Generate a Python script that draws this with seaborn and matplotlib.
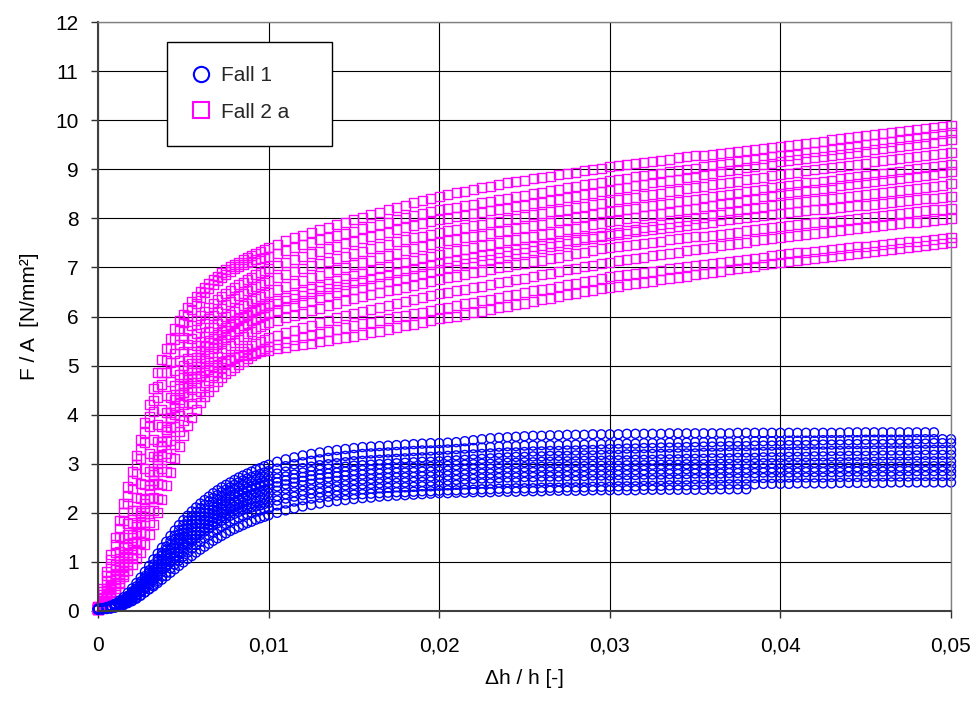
import matplotlib
matplotlib.use("Agg")
import matplotlib.pyplot as plt
from matplotlib.lines import Line2D
import pandas as pd
import seaborn as sns

# ---------------- data ----------------
# strain samples: every 0.00025 up to 0.01, then every 0.0005 up to 0.05
STRAIN = [
    0.00000, 0.00025, 0.00050, 0.00075, 0.00100, 0.00125, 0.00150, 0.00175,
    0.00200, 0.00225, 0.00250, 0.00275, 0.00300, 0.00325, 0.00350, 0.00375,
    0.00400, 0.00425, 0.00450, 0.00475, 0.00500, 0.00525, 0.00550, 0.00575,
    0.00600, 0.00625, 0.00650, 0.00675, 0.00700, 0.00725, 0.00750, 0.00775,
    0.00800, 0.00825, 0.00850, 0.00875, 0.00900, 0.00925, 0.00950, 0.00975,
    0.01000,
    0.0105, 0.0110, 0.0115, 0.0120, 0.0125, 0.0130, 0.0135, 0.0140, 0.0145, 0.0150,
    0.0155, 0.0160, 0.0165, 0.0170, 0.0175, 0.0180, 0.0185, 0.0190, 0.0195, 0.0200,
    0.0205, 0.0210, 0.0215, 0.0220, 0.0225, 0.0230, 0.0235, 0.0240, 0.0245, 0.0250,
    0.0255, 0.0260, 0.0265, 0.0270, 0.0275, 0.0280, 0.0285, 0.0290, 0.0295, 0.0300,
    0.0305, 0.0310, 0.0315, 0.0320, 0.0325, 0.0330, 0.0335, 0.0340, 0.0345, 0.0350,
    0.0355, 0.0360, 0.0365, 0.0370, 0.0375, 0.0380, 0.0385, 0.0390, 0.0395, 0.0400,
    0.0405, 0.0410, 0.0415, 0.0420, 0.0425, 0.0430, 0.0435, 0.0440, 0.0445, 0.0450,
    0.0455, 0.0460, 0.0465, 0.0470, 0.0475, 0.0480, 0.0485, 0.0490, 0.0495, 0.0500,
]

# Fall 1 (blue circles), one list per test curve
FALL1_B1 = [
    0.05, 0.06, 0.08, 0.11, 0.15, 0.21, 0.28, 0.37, 0.46, 0.57,
    0.68, 0.80, 0.92, 1.05, 1.17, 1.29, 1.41, 1.53, 1.64, 1.75,
    1.85, 1.94, 2.03, 2.11, 2.19, 2.26, 2.33, 2.40, 2.46, 2.52,
    2.57, 2.62, 2.67, 2.72, 2.76, 2.80, 2.84, 2.88, 2.91, 2.95,
    2.98,
    3.04, 3.09, 3.13, 3.17, 3.20, 3.23, 3.26, 3.28, 3.30, 3.32,
    3.34, 3.35, 3.36, 3.37, 3.38, 3.39, 3.40, 3.41, 3.42, 3.42,
    3.43, 3.44, 3.46, 3.48, 3.50, 3.52, 3.53, 3.54, 3.55, 3.56,
    3.57, 3.57, 3.58, 3.58, 3.59, 3.59, 3.59, 3.60, 3.60, 3.60,
    3.60, 3.61, 3.61, 3.61, 3.61, 3.61, 3.62, 3.62, 3.62, 3.62,
    3.62, 3.62, 3.62, 3.62, 3.63, 3.63, 3.63, 3.63, 3.63, 3.63,
    3.63, 3.63, 3.63, 3.63, 3.63, 3.63, 3.63, 3.64, 3.64, 3.64,
    3.64, 3.64, 3.64, 3.64, 3.64, 3.64, 3.64, 3.64,
]
FALL1_B2 = [
    0.04, 0.05, 0.07, 0.10, 0.13, 0.18, 0.24, 0.31, 0.40, 0.50,
    0.60, 0.71, 0.83, 0.95, 1.07, 1.19, 1.31, 1.43, 1.54, 1.65,
    1.75, 1.84, 1.93, 2.01, 2.09, 2.16, 2.23, 2.30, 2.36, 2.42,
    2.47, 2.52, 2.57, 2.62, 2.66, 2.70, 2.73, 2.76, 2.79, 2.82,
    2.85,
    2.90, 2.95, 2.99, 3.03, 3.06, 3.09, 3.12, 3.14, 3.16, 3.18,
    3.20, 3.21, 3.22, 3.23, 3.24, 3.25, 3.26, 3.27, 3.27, 3.28,
    3.29, 3.30, 3.31, 3.32, 3.33, 3.34, 3.35, 3.36, 3.36, 3.37,
    3.37, 3.38, 3.38, 3.38, 3.39, 3.39, 3.39, 3.40, 3.40, 3.40,
    3.41, 3.41, 3.41, 3.42, 3.42, 3.42, 3.43, 3.43, 3.43, 3.44,
    3.44, 3.44, 3.45, 3.45, 3.45, 3.45, 3.46, 3.46, 3.46, 3.46,
    3.47, 3.47, 3.47, 3.47, 3.48, 3.48, 3.48, 3.48, 3.48, 3.49,
    3.49, 3.49, 3.49, 3.49, 3.49, 3.50, 3.50, 3.50, 3.50, 3.50,
]
FALL1_B9 = [
    0.04, 0.05, 0.07, 0.09, 0.12, 0.17, 0.22, 0.29, 0.37, 0.46,
    0.56, 0.67, 0.78, 0.90, 1.01, 1.13, 1.24, 1.35, 1.46, 1.56,
    1.66, 1.75, 1.84, 1.93, 2.01, 2.08, 2.15, 2.22, 2.28, 2.34,
    2.39, 2.44, 2.49, 2.53, 2.57, 2.61, 2.64, 2.67, 2.70, 2.73,
    2.75,
    2.80, 2.84, 2.88, 2.91, 2.94, 2.97, 2.99, 3.01, 3.03, 3.05,
    3.06, 3.07, 3.08, 3.09, 3.10, 3.11, 3.12, 3.13, 3.14, 3.15,
    3.16, 3.17, 3.18, 3.19, 3.20, 3.21, 3.22, 3.23, 3.23, 3.24,
    3.25, 3.25, 3.26, 3.26, 3.27, 3.27, 3.28, 3.28, 3.29, 3.30,
    3.30, 3.31, 3.31, 3.32, 3.32, 3.33, 3.33, 3.33, 3.34, 3.34,
    3.35, 3.35, 3.35, 3.36, 3.36, 3.36, 3.37, 3.37, 3.37, 3.38,
    3.38, 3.38, 3.38, 3.39, 3.39, 3.39, 3.39, 3.40, 3.40, 3.40,
    3.40, 3.40, 3.41, 3.41, 3.41, 3.41, 3.41, 3.42, 3.42, 3.42,
]
FALL1_B3 = [
    0.04, 0.05, 0.06, 0.08, 0.11, 0.15, 0.20, 0.27, 0.34, 0.43,
    0.52, 0.62, 0.73, 0.84, 0.95, 1.06, 1.17, 1.28, 1.38, 1.48,
    1.58, 1.67, 1.76, 1.84, 1.92, 1.99, 2.06, 2.12, 2.18, 2.24,
    2.29, 2.34, 2.38, 2.42, 2.46, 2.50, 2.53, 2.56, 2.59, 2.62,
    2.65,
    2.70, 2.74, 2.78, 2.82, 2.85, 2.88, 2.90, 2.92, 2.94, 2.96,
    2.97, 2.98, 2.99, 3.00, 3.01, 3.02, 3.03, 3.04, 3.04, 3.05,
    3.06, 3.07, 3.08, 3.09, 3.10, 3.11, 3.12, 3.13, 3.14, 3.14,
    3.15, 3.15, 3.16, 3.16, 3.16, 3.17, 3.17, 3.17, 3.18, 3.18,
    3.18, 3.19, 3.19, 3.19, 3.20, 3.20, 3.20, 3.21, 3.21, 3.21,
    3.22, 3.22, 3.22, 3.23, 3.23, 3.23, 3.23, 3.24, 3.24, 3.24,
    3.24, 3.25, 3.25, 3.25, 3.25, 3.26, 3.26, 3.26, 3.26, 3.26,
    3.27, 3.27, 3.27, 3.27, 3.27, 3.28, 3.28, 3.28, 3.28, 3.28,
]
FALL1_B10 = [
    0.04, 0.05, 0.06, 0.08, 0.10, 0.14, 0.19, 0.25, 0.32, 0.40,
    0.49, 0.59, 0.69, 0.80, 0.91, 1.02, 1.12, 1.23, 1.33, 1.43,
    1.52, 1.61, 1.70, 1.78, 1.86, 1.93, 2.00, 2.06, 2.12, 2.18,
    2.23, 2.28, 2.33, 2.37, 2.41, 2.45, 2.48, 2.51, 2.54, 2.56,
    2.58,
    2.62, 2.66, 2.70, 2.73, 2.76, 2.78, 2.80, 2.82, 2.84, 2.86,
    2.87, 2.88, 2.89, 2.90, 2.91, 2.92, 2.92, 2.93, 2.94, 2.95,
    2.96, 2.97, 2.98, 2.99, 3.00, 3.00, 3.01, 3.02, 3.02, 3.03,
    3.03, 3.04, 3.04, 3.05, 3.05, 3.05, 3.06, 3.06, 3.06, 3.07,
    3.07, 3.07, 3.08, 3.08, 3.08, 3.09, 3.09, 3.09, 3.10, 3.10,
    3.10, 3.11, 3.11, 3.11, 3.12, 3.12, 3.12, 3.13, 3.13, 3.13,
    3.14, 3.14, 3.14, 3.15, 3.15, 3.15, 3.15, 3.16, 3.16, 3.16,
    3.16, 3.17, 3.17, 3.17, 3.17, 3.17, 3.18, 3.18, 3.18, 3.18,
]
FALL1_B4 = [
    0.04, 0.05, 0.06, 0.08, 0.10, 0.14, 0.18, 0.24, 0.30, 0.38,
    0.46, 0.55, 0.65, 0.75, 0.86, 0.96, 1.07, 1.17, 1.27, 1.37,
    1.46, 1.55, 1.63, 1.71, 1.79, 1.86, 1.92, 1.98, 2.04, 2.09,
    2.14, 2.19, 2.23, 2.27, 2.31, 2.35, 2.38, 2.41, 2.44, 2.47,
    2.50,
    2.54, 2.58, 2.62, 2.65, 2.68, 2.70, 2.72, 2.74, 2.76, 2.77,
    2.78, 2.79, 2.80, 2.81, 2.82, 2.82, 2.83, 2.84, 2.84, 2.85,
    2.86, 2.87, 2.88, 2.89, 2.90, 2.90, 2.91, 2.92, 2.92, 2.93,
    2.93, 2.94, 2.94, 2.94, 2.95, 2.95, 2.95, 2.96, 2.96, 2.96,
    2.96, 2.97, 2.97, 2.97, 2.98, 2.98, 2.98, 2.98, 2.99, 2.99,
    2.99, 2.99, 3.00, 3.00, 3.00, 3.00, 3.01, 3.01, 3.01, 3.01,
    3.02, 3.02, 3.02, 3.02, 3.02, 3.03, 3.03, 3.03, 3.03, 3.03,
    3.04, 3.04, 3.04, 3.04, 3.04, 3.05, 3.05, 3.05, 3.05, 3.05,
]
FALL1_B5 = [
    0.03, 0.04, 0.05, 0.07, 0.09, 0.12, 0.16, 0.21, 0.27, 0.34,
    0.42, 0.51, 0.60, 0.70, 0.80, 0.90, 1.00, 1.10, 1.19, 1.28,
    1.37, 1.46, 1.54, 1.62, 1.69, 1.76, 1.82, 1.88, 1.94, 1.99,
    2.04, 2.09, 2.13, 2.17, 2.21, 2.25, 2.28, 2.31, 2.34, 2.37,
    2.40,
    2.45, 2.49, 2.53, 2.56, 2.59, 2.61, 2.63, 2.65, 2.66, 2.67,
    2.68, 2.69, 2.70, 2.71, 2.72, 2.72, 2.73, 2.74, 2.74, 2.75,
    2.76, 2.77, 2.78, 2.79, 2.80, 2.80, 2.81, 2.82, 2.82, 2.83,
    2.83, 2.84, 2.84, 2.84, 2.85, 2.85, 2.85, 2.86, 2.86, 2.86,
    2.86, 2.87, 2.87, 2.87, 2.88, 2.88, 2.88, 2.88, 2.89, 2.89,
    2.89, 2.89, 2.90, 2.90, 2.90, 2.90, 2.91, 2.91, 2.91, 2.91,
    2.92, 2.92, 2.92, 2.92, 2.92, 2.93, 2.93, 2.93, 2.93, 2.93,
    2.94, 2.94, 2.94, 2.94, 2.94, 2.95, 2.95, 2.95, 2.95, 2.95,
]
FALL1_B11 = [
    0.03, 0.04, 0.05, 0.06, 0.08, 0.11, 0.15, 0.20, 0.26, 0.33,
    0.40, 0.48, 0.57, 0.66, 0.75, 0.85, 0.94, 1.03, 1.12, 1.21,
    1.30, 1.38, 1.46, 1.54, 1.61, 1.68, 1.75, 1.81, 1.87, 1.92,
    1.97, 2.02, 2.06, 2.10, 2.14, 2.17, 2.20, 2.23, 2.26, 2.28,
    2.30,
    2.34, 2.38, 2.42, 2.45, 2.48, 2.50, 2.52, 2.54, 2.56, 2.57,
    2.58, 2.59, 2.60, 2.61, 2.61, 2.62, 2.63, 2.63, 2.64, 2.65,
    2.66, 2.67, 2.68, 2.69, 2.70, 2.70, 2.71, 2.72, 2.72, 2.73,
    2.73, 2.74, 2.74, 2.74, 2.75, 2.75, 2.75, 2.76, 2.76, 2.76,
    2.77, 2.77, 2.77, 2.78, 2.78, 2.78, 2.79, 2.79, 2.79, 2.80,
    2.80, 2.80, 2.80, 2.81, 2.81, 2.81, 2.81, 2.82, 2.82, 2.82,
    2.82, 2.82, 2.83, 2.83, 2.83, 2.83, 2.83, 2.84, 2.84, 2.84,
    2.84, 2.84, 2.84, 2.85, 2.85, 2.85, 2.85, 2.85, 2.85, 2.85,
]
FALL1_B6 = [
    0.03, 0.04, 0.05, 0.06, 0.08, 0.11, 0.15, 0.20, 0.25, 0.31,
    0.38, 0.46, 0.54, 0.63, 0.72, 0.81, 0.90, 0.99, 1.08, 1.17,
    1.25, 1.33, 1.41, 1.48, 1.55, 1.62, 1.68, 1.74, 1.79, 1.84,
    1.89, 1.94, 1.98, 2.02, 2.06, 2.09, 2.11, 2.13, 2.15, 2.18,
    2.20,
    2.25, 2.29, 2.33, 2.36, 2.39, 2.41, 2.43, 2.45, 2.46, 2.47,
    2.48, 2.49, 2.50, 2.51, 2.52, 2.52, 2.53, 2.54, 2.54, 2.55,
    2.56, 2.57, 2.58, 2.59, 2.60, 2.60, 2.61, 2.62, 2.62, 2.63,
    2.63, 2.64, 2.64, 2.64, 2.65, 2.65, 2.65, 2.65, 2.65, 2.65,
    2.66, 2.66, 2.66, 2.67, 2.67, 2.67, 2.68, 2.68, 2.68, 2.69,
    2.69, 2.69, 2.70, 2.70, 2.70, 2.70, 2.71, 2.71, 2.71, 2.71,
    2.72, 2.72, 2.72, 2.72, 2.72, 2.73, 2.73, 2.73, 2.73, 2.73,
    2.74, 2.74, 2.74, 2.74, 2.74, 2.75, 2.75, 2.75, 2.75, 2.75,
]
FALL1_B7 = [
    0.03, 0.03, 0.04, 0.05, 0.07, 0.09, 0.12, 0.16, 0.20, 0.25,
    0.31, 0.38, 0.45, 0.53, 0.61, 0.70, 0.78, 0.87, 0.95, 1.03,
    1.11, 1.19, 1.27, 1.34, 1.41, 1.48, 1.54, 1.60, 1.66, 1.72,
    1.77, 1.82, 1.86, 1.90, 1.94, 1.97, 2.00, 2.03, 2.05, 2.08,
    2.10,
    2.15, 2.19, 2.23, 2.26, 2.29, 2.31, 2.33, 2.35, 2.36, 2.37,
    2.38, 2.39, 2.40, 2.41, 2.42, 2.42, 2.43, 2.44, 2.44, 2.45,
    2.46, 2.46, 2.47, 2.47, 2.48, 2.48, 2.49, 2.49, 2.50, 2.50,
    2.50, 2.51, 2.51, 2.51, 2.52, 2.52, 2.52, 2.53, 2.53, 2.53,
    2.54, 2.54, 2.54, 2.55, 2.55, 2.55, 2.56, 2.56, 2.56, 2.57,
    2.57, 2.57, 2.57, 2.58, 2.58, 2.58, 2.58, 2.59, 2.59, 2.59,
    2.59, 2.60, 2.60, 2.60, 2.60, 2.60, 2.61, 2.61, 2.61, 2.61,
    2.61, 2.61, 2.62, 2.62, 2.62, 2.62, 2.62, 2.62, 2.62, 2.62,
]
FALL1_B8 = [
    0.03, 0.04, 0.05, 0.06, 0.08, 0.11, 0.14, 0.18, 0.22, 0.27,
    0.32, 0.38, 0.44, 0.50, 0.57, 0.64, 0.71, 0.78, 0.85, 0.92,
    0.99, 1.06, 1.12, 1.19, 1.25, 1.31, 1.37, 1.43, 1.48, 1.53,
    1.58, 1.63, 1.67, 1.71, 1.75, 1.79, 1.82, 1.86, 1.89, 1.92,
    1.95,
    2.00, 2.05, 2.09, 2.13, 2.16, 2.19, 2.22, 2.24, 2.26, 2.28,
    2.30, 2.31, 2.33, 2.34, 2.35, 2.36, 2.37, 2.38, 2.39, 2.40,
    2.40, 2.41, 2.41, 2.42, 2.42, 2.42, 2.43, 2.43, 2.43, 2.44,
    2.44, 2.44, 2.45, 2.45, 2.45, 2.45, 2.45, 2.46, 2.46, 2.46,
    2.46, 2.46, 2.46, 2.47, 2.47, 2.47, 2.47, 2.47, 2.47, 2.47,
    2.47, 2.48, 2.48, 2.48, 2.48, 2.48,
]

# Fall 2 a (magenta squares), one list per test curve
FALL2A_M1 = [
    0.10, 0.45, 0.80, 1.15, 1.50, 1.85, 2.20, 2.53, 2.85, 3.17,
    3.50, 3.85, 4.20, 4.53, 4.85, 5.12, 5.35, 5.56, 5.75, 5.91,
    6.05, 6.18, 6.30, 6.40, 6.50, 6.59, 6.67, 6.75, 6.82, 6.89,
    6.95, 7.01, 7.06, 7.11, 7.16, 7.21, 7.25, 7.29, 7.33, 7.37,
    7.40,
    7.47, 7.54, 7.60, 7.66, 7.72, 7.77, 7.82, 7.87, 7.92, 7.97,
    8.02, 8.07, 8.12, 8.17, 8.22, 8.27, 8.32, 8.36, 8.41, 8.45,
    8.48, 8.52, 8.55, 8.58, 8.62, 8.65, 8.68, 8.72, 8.75, 8.78,
    8.81, 8.84, 8.86, 8.89, 8.92, 8.94, 8.97, 9.00, 9.02, 9.05,
    9.07, 9.09, 9.12, 9.14, 9.16, 9.18, 9.20, 9.23, 9.25, 9.27,
    9.29, 9.31, 9.33, 9.35, 9.37, 9.39, 9.41, 9.43, 9.45, 9.47,
    9.49, 9.51, 9.53, 9.55, 9.57, 9.60, 9.62, 9.64, 9.66, 9.68,
    9.70, 9.72, 9.74, 9.77, 9.79, 9.81, 9.83, 9.85, 9.88, 9.90,
]
FALL2A_M11 = [
    0.09, 0.40, 0.72, 1.04, 1.36, 1.68, 2.00, 2.33, 2.66, 2.98,
    3.30, 3.63, 3.96, 4.28, 4.58, 4.86, 5.11, 5.34, 5.54, 5.72,
    5.88, 6.02, 6.15, 6.27, 6.38, 6.48, 6.57, 6.65, 6.73, 6.80,
    6.86, 6.92, 6.97, 7.02, 7.06, 7.10, 7.13, 7.16, 7.18, 7.20,
    7.22,
    7.28, 7.34, 7.40, 7.46, 7.51, 7.56, 7.61, 7.66, 7.70, 7.74,
    7.79, 7.83, 7.88, 7.92, 7.97, 8.01, 8.05, 8.09, 8.13, 8.17,
    8.20, 8.23, 8.26, 8.29, 8.32, 8.35, 8.38, 8.41, 8.44, 8.47,
    8.50, 8.53, 8.56, 8.59, 8.62, 8.65, 8.68, 8.71, 8.74, 8.77,
    8.80, 8.82, 8.85, 8.87, 8.90, 8.92, 8.95, 8.97, 9.00, 9.02,
    9.05, 9.07, 9.10, 9.12, 9.15, 9.17, 9.20, 9.22, 9.25, 9.27,
    9.29, 9.31, 9.34, 9.36, 9.38, 9.40, 9.43, 9.45, 9.47, 9.50,
    9.52, 9.55, 9.57, 9.60, 9.62, 9.65, 9.67, 9.70, 9.72, 9.75,
]
FALL2A_M2 = [
    0.08, 0.33, 0.60, 0.90, 1.20, 1.52, 1.85, 2.18, 2.50, 2.80,
    3.10, 3.43, 3.75, 4.06, 4.35, 4.62, 4.85, 5.06, 5.25, 5.43,
    5.58, 5.71, 5.82, 5.92, 6.02, 6.11, 6.19, 6.27, 6.34, 6.41,
    6.47, 6.53, 6.59, 6.65, 6.70, 6.75, 6.80, 6.85, 6.89, 6.93,
    6.97,
    7.04, 7.10, 7.16, 7.22, 7.28, 7.33, 7.38, 7.43, 7.48, 7.53,
    7.58, 7.63, 7.68, 7.72, 7.77, 7.81, 7.85, 7.89, 7.93, 7.97,
    8.00, 8.03, 8.06, 8.09, 8.12, 8.15, 8.18, 8.21, 8.24, 8.27,
    8.30, 8.33, 8.36, 8.39, 8.42, 8.45, 8.48, 8.51, 8.54, 8.57,
    8.60, 8.63, 8.66, 8.69, 8.72, 8.75, 8.78, 8.80, 8.83, 8.86,
    8.89, 8.92, 8.95, 8.98, 9.00, 9.03, 9.06, 9.09, 9.12, 9.15,
    9.17, 9.19, 9.22, 9.24, 9.26, 9.28, 9.31, 9.33, 9.35, 9.37,
    9.40, 9.42, 9.44, 9.46, 9.49, 9.51, 9.53, 9.55, 9.58, 9.60,
]
FALL2A_M3 = [
    0.06, 0.25, 0.45, 0.70, 0.95, 1.22, 1.50, 1.78, 2.05, 2.32,
    2.60, 2.90, 3.20, 3.50, 3.80, 4.10, 4.40, 4.67, 4.90, 5.10,
    5.28, 5.42, 5.55, 5.66, 5.77, 5.86, 5.95, 6.03, 6.10, 6.17,
    6.24, 6.30, 6.36, 6.42, 6.47, 6.52, 6.57, 6.62, 6.66, 6.70,
    6.74,
    6.80, 6.86, 6.92, 6.97, 7.03, 7.08, 7.13, 7.18, 7.23, 7.28,
    7.33, 7.38, 7.43, 7.47, 7.52, 7.56, 7.60, 7.64, 7.68, 7.72,
    7.75, 7.78, 7.81, 7.85, 7.88, 7.91, 7.94, 7.97, 8.00, 8.04,
    8.07, 8.10, 8.13, 8.16, 8.19, 8.22, 8.25, 8.28, 8.31, 8.35,
    8.38, 8.40, 8.43, 8.46, 8.49, 8.51, 8.54, 8.57, 8.60, 8.62,
    8.65, 8.68, 8.71, 8.73, 8.76, 8.79, 8.82, 8.84, 8.87, 8.90,
    8.92, 8.94, 8.97, 8.99, 9.01, 9.03, 9.06, 9.08, 9.10, 9.12,
    9.15, 9.17, 9.19, 9.21, 9.24, 9.26, 9.28, 9.30, 9.33, 9.35,
]
FALL2A_M4 = [
    0.05, 0.22, 0.40, 0.62, 0.85, 1.07, 1.30, 1.55, 1.80, 2.05,
    2.30, 2.57, 2.85, 3.15, 3.45, 3.75, 4.05, 4.34, 4.60, 4.82,
    5.00, 5.15, 5.28, 5.40, 5.50, 5.60, 5.69, 5.77, 5.85, 5.92,
    5.99, 6.05, 6.11, 6.17, 6.22, 6.27, 6.32, 6.37, 6.41, 6.45,
    6.49,
    6.55, 6.61, 6.67, 6.73, 6.79, 6.84, 6.90, 6.95, 7.00, 7.05,
    7.10, 7.15, 7.20, 7.25, 7.29, 7.34, 7.38, 7.43, 7.47, 7.51,
    7.54, 7.57, 7.60, 7.63, 7.66, 7.70, 7.73, 7.76, 7.79, 7.82,
    7.85, 7.88, 7.92, 7.95, 7.98, 8.01, 8.04, 8.07, 8.11, 8.14,
    8.16, 8.19, 8.21, 8.24, 8.26, 8.29, 8.31, 8.34, 8.36, 8.39,
    8.41, 8.44, 8.46, 8.49, 8.51, 8.54, 8.56, 8.59, 8.62, 8.65,
    8.67, 8.69, 8.72, 8.74, 8.76, 8.78, 8.81, 8.83, 8.85, 8.87,
    8.90, 8.92, 8.94, 8.96, 8.99, 9.01, 9.03, 9.05, 9.08, 9.10,
]
FALL2A_M5 = [
    0.05, 0.20, 0.35, 0.55, 0.75, 0.95, 1.15, 1.35, 1.55, 1.77,
    2.00, 2.27, 2.55, 2.85, 3.15, 3.45, 3.75, 4.04, 4.30, 4.54,
    4.75, 4.91, 5.05, 5.17, 5.28, 5.38, 5.47, 5.55, 5.63, 5.70,
    5.77, 5.83, 5.89, 5.95, 6.00, 6.05, 6.10, 6.15, 6.19, 6.23,
    6.27,
    6.33, 6.39, 6.45, 6.51, 6.57, 6.62, 6.68, 6.73, 6.78, 6.83,
    6.88, 6.93, 6.98, 7.02, 7.07, 7.11, 7.15, 7.19, 7.23, 7.27,
    7.30, 7.34, 7.37, 7.40, 7.44, 7.47, 7.50, 7.54, 7.57, 7.60,
    7.64, 7.67, 7.70, 7.74, 7.77, 7.80, 7.84, 7.87, 7.90, 7.93,
    7.96, 7.99, 8.02, 8.05, 8.07, 8.10, 8.13, 8.16, 8.19, 8.21,
    8.24, 8.27, 8.30, 8.33, 8.35, 8.38, 8.41, 8.44, 8.47, 8.50,
    8.52, 8.54, 8.57, 8.59, 8.61, 8.63, 8.66, 8.68, 8.70, 8.72,
    8.75, 8.77, 8.79, 8.81, 8.84, 8.86, 8.88, 8.90, 8.93, 8.95,
]
FALL2A_M12 = [
    0.05, 0.18, 0.32, 0.50, 0.70, 0.90, 1.10, 1.30, 1.50, 1.72,
    1.95, 2.20, 2.48, 2.78, 3.08, 3.38, 3.66, 3.93, 4.18, 4.41,
    4.60, 4.77, 4.92, 5.05, 5.17, 5.28, 5.38, 5.47, 5.56, 5.64,
    5.72, 5.79, 5.86, 5.92, 5.98, 6.03, 6.08, 6.12, 6.16, 6.19,
    6.22,
    6.27, 6.32, 6.37, 6.42, 6.47, 6.52, 6.57, 6.61, 6.65, 6.69,
    6.73, 6.77, 6.81, 6.85, 6.89, 6.93, 6.97, 7.01, 7.05, 7.09,
    7.12, 7.15, 7.18, 7.21, 7.24, 7.27, 7.30, 7.33, 7.36, 7.39,
    7.42, 7.45, 7.48, 7.51, 7.54, 7.57, 7.60, 7.63, 7.66, 7.69,
    7.72, 7.75, 7.78, 7.81, 7.84, 7.87, 7.90, 7.93, 7.96, 7.99,
    8.02, 8.05, 8.08, 8.11, 8.14, 8.17, 8.20, 8.23, 8.26, 8.29,
    8.31, 8.33, 8.35, 8.37, 8.39, 8.41, 8.43, 8.45, 8.47, 8.49,
    8.51, 8.53, 8.55, 8.57, 8.59, 8.61, 8.63, 8.65, 8.67, 8.70,
]
FALL2A_M6 = [
    0.04, 0.16, 0.30, 0.47, 0.65, 0.82, 1.00, 1.20, 1.40, 1.60,
    1.80, 2.04, 2.30, 2.57, 2.85, 3.15, 3.45, 3.74, 4.00, 4.24,
    4.45, 4.63, 4.78, 4.92, 5.04, 5.15, 5.25, 5.34, 5.42, 5.50,
    5.57, 5.64, 5.70, 5.76, 5.81, 5.86, 5.91, 5.96, 6.00, 6.04,
    6.08,
    6.13, 6.18, 6.23, 6.28, 6.33, 6.38, 6.43, 6.48, 6.52, 6.56,
    6.60, 6.64, 6.68, 6.72, 6.76, 6.80, 6.84, 6.88, 6.92, 6.96,
    7.00, 7.03, 7.07, 7.10, 7.14, 7.17, 7.21, 7.24, 7.28, 7.31,
    7.35, 7.38, 7.42, 7.45, 7.49, 7.52, 7.56, 7.59, 7.63, 7.66,
    7.68, 7.70, 7.73, 7.75, 7.77, 7.79, 7.81, 7.84, 7.86, 7.88,
    7.90, 7.92, 7.95, 7.97, 7.99, 8.01, 8.03, 8.06, 8.08, 8.10,
    8.12, 8.13, 8.15, 8.17, 8.19, 8.20, 8.22, 8.24, 8.26, 8.27,
    8.29, 8.31, 8.33, 8.34, 8.36, 8.38, 8.40, 8.41, 8.43, 8.45,
]
FALL2A_M7 = [
    0.04, 0.15, 0.28, 0.43, 0.58, 0.74, 0.90, 1.07, 1.25, 1.42,
    1.60, 1.81, 2.05, 2.32, 2.60, 2.90, 3.20, 3.48, 3.75, 3.99,
    4.20, 4.37, 4.52, 4.66, 4.78, 4.89, 5.00, 5.09, 5.18, 5.26,
    5.34, 5.41, 5.47, 5.53, 5.59, 5.65, 5.70, 5.75, 5.79, 5.83,
    5.87,
    5.92, 5.97, 6.02, 6.07, 6.12, 6.17, 6.22, 6.27, 6.32, 6.36,
    6.40, 6.44, 6.48, 6.52, 6.56, 6.60, 6.64, 6.68, 6.72, 6.76,
    6.79, 6.82, 6.86, 6.89, 6.92, 6.95, 6.99, 7.02, 7.05, 7.08,
    7.12, 7.15, 7.18, 7.21, 7.25, 7.28, 7.31, 7.34, 7.38, 7.41,
    7.43, 7.45, 7.47, 7.49, 7.51, 7.53, 7.56, 7.58, 7.60, 7.62,
    7.64, 7.66, 7.68, 7.70, 7.72, 7.75, 7.77, 7.79, 7.81, 7.83,
    7.85, 7.87, 7.89, 7.91, 7.93, 7.94, 7.96, 7.98, 8.00, 8.02,
    8.04, 8.06, 8.07, 8.09, 8.11, 8.13, 8.15, 8.17, 8.18, 8.20,
]
FALL2A_M8 = [
    0.03, 0.13, 0.25, 0.38, 0.52, 0.66, 0.80, 0.95, 1.10, 1.25,
    1.40, 1.58, 1.80, 2.04, 2.30, 2.57, 2.85, 3.13, 3.40, 3.66,
    3.88, 4.06, 4.22, 4.36, 4.48, 4.60, 4.70, 4.79, 4.88, 4.96,
    5.04, 5.11, 5.17, 5.23, 5.29, 5.35, 5.40, 5.45, 5.49, 5.53,
    5.57,
    5.62, 5.67, 5.72, 5.77, 5.82, 5.87, 5.92, 5.97, 6.02, 6.06,
    6.10, 6.14, 6.18, 6.22, 6.26, 6.30, 6.34, 6.38, 6.42, 6.46,
    6.49, 6.52, 6.56, 6.59, 6.62, 6.65, 6.69, 6.72, 6.75, 6.78,
    6.82, 6.85, 6.88, 6.91, 6.95, 6.98, 7.01, 7.04, 7.08, 7.11,
    7.14, 7.16, 7.19, 7.21, 7.24, 7.26, 7.29, 7.31, 7.34, 7.36,
    7.39, 7.41, 7.44, 7.46, 7.49, 7.51, 7.54, 7.56, 7.59, 7.61,
    7.63, 7.65, 7.67, 7.69, 7.71, 7.73, 7.75, 7.77, 7.79, 7.81,
    7.83, 7.85, 7.87, 7.89, 7.91, 7.92, 7.94, 7.96, 7.98, 8.00,
]
FALL2A_M9 = [
    0.03, 0.12, 0.22, 0.34, 0.46, 0.58, 0.70, 0.82, 0.95, 1.07,
    1.20, 1.36, 1.55, 1.76, 2.00, 2.27, 2.55, 2.83, 3.10, 3.36,
    3.58, 3.78, 3.95, 4.11, 4.25, 4.37, 4.48, 4.58, 4.67, 4.75,
    4.83, 4.90, 4.97, 5.03, 5.09, 5.15, 5.20, 5.25, 5.30, 5.34,
    5.38,
    5.43, 5.48, 5.53, 5.57, 5.61, 5.65, 5.69, 5.73, 5.77, 5.81,
    5.85, 5.88, 5.92, 5.95, 5.99, 6.02, 6.06, 6.09, 6.13, 6.16,
    6.19, 6.22, 6.26, 6.29, 6.32, 6.35, 6.39, 6.42, 6.45, 6.48,
    6.52, 6.55, 6.58, 6.61, 6.65, 6.68, 6.71, 6.74, 6.78, 6.81,
    6.83, 6.85, 6.88, 6.90, 6.92, 6.94, 6.97, 6.99, 7.01, 7.03,
    7.06, 7.08, 7.10, 7.12, 7.15, 7.17, 7.19, 7.21, 7.24, 7.26,
    7.28, 7.30, 7.31, 7.33, 7.35, 7.36, 7.38, 7.40, 7.42, 7.43,
    7.45, 7.47, 7.48, 7.50, 7.52, 7.53, 7.55, 7.57, 7.58, 7.60,
]
FALL2A_M10 = [
    0.05, 0.12, 0.20, 0.29, 0.40, 0.56, 0.75, 0.95, 1.15, 1.37,
    1.60, 1.93, 2.30, 2.65, 3.00, 3.36, 3.70, 3.95, 4.15, 4.31,
    4.45, 4.56, 4.65, 4.73, 4.80, 4.86, 4.92, 4.97, 5.02, 5.06,
    5.10, 5.13, 5.16, 5.19, 5.21, 5.23, 5.25, 5.27, 5.28, 5.30,
    5.31,
    5.34, 5.37, 5.40, 5.43, 5.46, 5.49, 5.52, 5.55, 5.57, 5.60,
    5.63, 5.67, 5.70, 5.74, 5.77, 5.81, 5.84, 5.88, 5.91, 5.95,
    5.98, 6.01, 6.05, 6.08, 6.11, 6.14, 6.18, 6.21, 6.24, 6.27,
    6.30, 6.34, 6.37, 6.40, 6.44, 6.47, 6.50, 6.53, 6.57, 6.60,
    6.62, 6.65, 6.67, 6.70, 6.72, 6.75, 6.77, 6.80, 6.82, 6.85,
    6.87, 6.90, 6.92, 6.95, 6.97, 7.00, 7.02, 7.05, 7.07, 7.10,
    7.12, 7.14, 7.16, 7.18, 7.20, 7.22, 7.24, 7.26, 7.28, 7.30,
    7.32, 7.34, 7.36, 7.38, 7.40, 7.42, 7.44, 7.46, 7.48, 7.50,
]

SERIES_NAMES = ["Fall 1", "Fall 2 a"]
FALL1_CURVES = [FALL1_B1, FALL1_B2, FALL1_B9, FALL1_B3, FALL1_B10, FALL1_B4,
                FALL1_B5, FALL1_B11, FALL1_B6, FALL1_B7, FALL1_B8]
FALL2A_CURVES = [FALL2A_M1, FALL2A_M11, FALL2A_M2, FALL2A_M3, FALL2A_M4,
                 FALL2A_M5, FALL2A_M12, FALL2A_M6, FALL2A_M7, FALL2A_M8,
                 FALL2A_M9, FALL2A_M10]
X_TICKS = [0.0, 0.01, 0.02, 0.03, 0.04, 0.05]
X_TICK_LABELS = ["0", "0,01", "0,02", "0,03", "0,04", "0,05"]
Y_TICKS = list(range(0, 13))

# ---------------- long-form table ----------------
rows = []
for name, curves in ((SERIES_NAMES[1], FALL2A_CURVES), (SERIES_NAMES[0], FALL1_CURVES)):
    for k, ys in enumerate(curves):
        for xv, yv in zip(STRAIN, ys):
            rows.append((name, k, xv, yv))
df = pd.DataFrame(rows, columns=["series", "curve", "strain", "stress"])

# ---------------- style ----------------
sns.set_theme(style="white")
plt.rcParams["font.family"] = ["Liberation Sans", "DejaVu Sans"]

BLUE = "#0000FF"
MAGENTA = "#FF00FF"
FS = 15

fig = plt.figure(figsize=(9.78, 7.02), dpi=100)
ax = fig.add_axes([98 / 978, 91 / 702, 853 / 978, 589 / 702])

sns.scatterplot(data=df[df["series"] == "Fall 2 a"], x="strain", y="stress",
                marker="s", s=42, color=MAGENTA, facecolor="none",
                edgecolor=MAGENTA, linewidth=1.0, clip_on=False,
                legend=False, ax=ax, zorder=3)
sns.scatterplot(data=df[df["series"] == "Fall 1"], x="strain", y="stress",
                marker="o", s=42, color=BLUE, facecolor="none",
                edgecolor=BLUE, linewidth=1.0, clip_on=False,
                legend=False, ax=ax, zorder=4)

ax.set_xlim(0, 0.05)
ax.set_ylim(0, 12)
ax.set_xticks(X_TICKS)
ax.set_xticklabels(X_TICK_LABELS)
ax.set_yticks(Y_TICKS)
ax.set_yticklabels([str(v) for v in Y_TICKS])
ax.grid(True, color="black", linewidth=0.8)
ax.set_axisbelow(True)

ax.tick_params(axis="both", which="major", direction="out", length=5,
               width=1, color="#303030", labelsize=FS, labelcolor="black",
               left=True, bottom=True)
ax.tick_params(axis="x", pad=13)
ax.tick_params(axis="y", pad=9)

for side in ("left", "bottom"):
    ax.spines[side].set_color("#404040")
    ax.spines[side].set_linewidth(1.5)
for side in ("top", "right"):
    ax.spines[side].set_color("#808080")
    ax.spines[side].set_linewidth(1.0)
for sp in ax.spines.values():
    sp.set_zorder(5)

ax.set_xlabel("\u0394h / h [-]", fontsize=FS, color="black", labelpad=10)
ax.set_ylabel("F / A  [N/mm\u00b2]", fontsize=FS, color="black", labelpad=12)

handles = [
    Line2D([], [], marker="o", linestyle="", markersize=11,
           markerfacecolor="none", markeredgecolor=BLUE, markeredgewidth=1.5),
    Line2D([], [], marker="s", linestyle="", markersize=11,
           markerfacecolor="none", markeredgecolor=MAGENTA, markeredgewidth=1.5),
]
leg = ax.legend(handles, SERIES_NAMES, loc="upper left",
                bbox_to_anchor=(0.0809, 0.771, 0.194, 0.195), mode="expand",
                fontsize=FS, frameon=True, fancybox=False, framealpha=1,
                edgecolor="black", borderpad=1.15, labelspacing=0.85,
                handlelength=1.0, handletextpad=0.45, borderaxespad=0)
leg.get_frame().set_linewidth(1.0)
leg.set_zorder(10)

fig.savefig("out.png", dpi=100)
